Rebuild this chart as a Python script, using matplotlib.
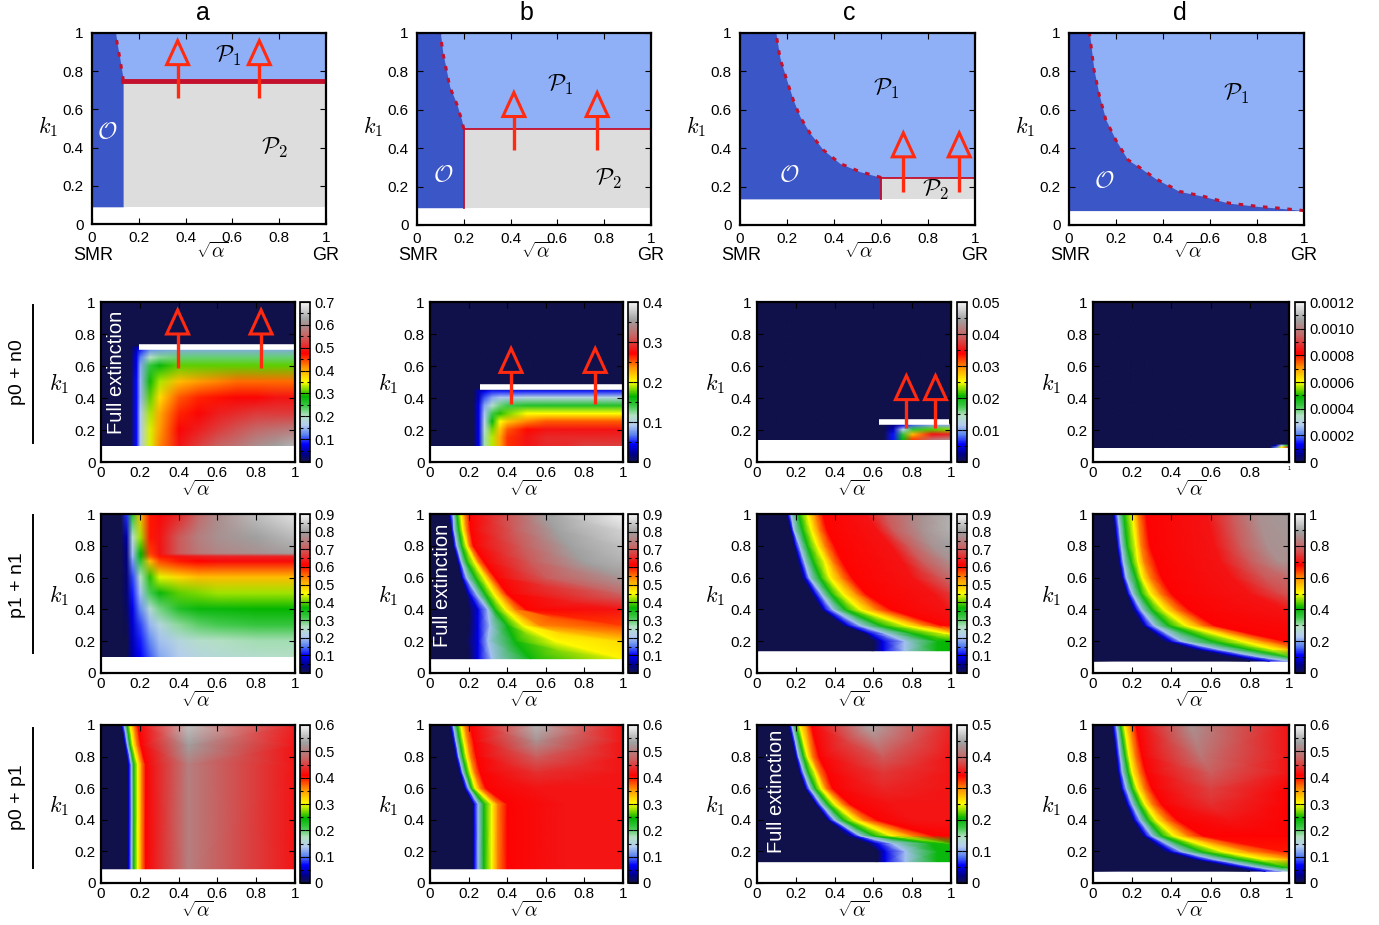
import numpy as np
import matplotlib
matplotlib.use('Agg')
import matplotlib.pyplot as plt
from matplotlib.colors import LinearSegmentedColormap, Normalize
from matplotlib.patches import Polygon
from matplotlib.lines import Line2D
from matplotlib.ticker import FixedLocator
from matplotlib.image import NonUniformImage

plt.rcParams['font.family'] = ['Liberation Sans', 'DejaVu Sans']
plt.rcParams['mathtext.fontset'] = 'cm'

# ------------------------------------------------------------------ data
COLUMN_TITLES = ['a', 'b', 'c', 'd']
ROW_LABELS = ['p0 + n0', 'p1 + n1', 'p0 + p1']
TICKS = [0, 0.2, 0.4, 0.6, 0.8, 1.0]
TICK_LABELS = ['0', '0.2', '0.4', '0.6', '0.8', '1']

# top row: phase diagrams (O / P1 / P2)
PHASE_BOTTOM = [0.09, 0.09, 0.136, 0.075]
P2_LEVEL = [0.75, 0.50, 0.245, None]
O_EDGE_K1_A = [0.09, 0.75, 0.76, 0.874, 0.94, 1.0]
O_EDGE_X_A = [0.133, 0.133, 0.133, 0.118, 0.108, 0.101]
O_EDGE_K1_B = [0.09, 0.50, 0.55, 0.63, 0.72, 0.84, 0.90, 1.0]
O_EDGE_X_B = [0.20, 0.20, 0.19, 0.17, 0.14, 0.12, 0.11, 0.10]
O_EDGE_K1_C = [0.136, 0.245, 0.249, 0.278, 0.32, 0.39, 0.478, 0.565, 0.65, 0.75, 0.87, 1.0]
O_EDGE_X_C = [0.60, 0.60, 0.596, 0.51, 0.426, 0.355, 0.298, 0.255, 0.227, 0.20, 0.17, 0.153]
O_EDGE_K1_D = [0.075, 0.088, 0.096, 0.114, 0.15, 0.175, 0.24, 0.30, 0.34, 0.44, 0.55, 0.68, 0.81, 0.99, 1.0]
O_EDGE_X_D = [1.0, 0.89, 0.81, 0.68, 0.57, 0.47, 0.37, 0.30, 0.25, 0.20, 0.156, 0.128, 0.106, 0.088, 0.088]
PHASE_LABEL_P1 = [(0.58, 0.88), (0.61, 0.73), (0.62, 0.71), (0.71, 0.68)]
PHASE_LABEL_P2 = [(0.78, 0.40), (0.82, 0.24), (0.83, 0.18), None]
PHASE_LABEL_O = [(0.064, 0.48), (0.11, 0.26), (0.21, 0.26), (0.15, 0.23)]

# arrows (x positions, stem bottom, tip)
TOP_ARROW_X = [[0.366, 0.715], [0.414, 0.77], [0.695, 0.933], []]
TOP_ARROW_Y = [(0.66, 0.96), (0.39, 0.69), (0.17, 0.48), None]
R2_ARROW_X = [[0.395, 0.825], [0.42, 0.856], [0.77, 0.92], []]
R2_ARROW_Y = [(0.59, 0.95), (0.36, 0.71), (0.21, 0.54), None]
# white threshold lines in row 2: (k1, x_start, x_end)
R2_WHITE_LINE = [(0.72, 0.196, 1.0), (0.47, 0.26, 1.0), (0.25, 0.63, 0.99), None]

# ---- row 2: p0 + n0  (rectangular grids: X shared by all rows)
R2A_X = [0, 0.15, 0.18, 0.2, 0.25, 0.3, 0.4, 0.5, 0.6, 0.7, 0.8, 0.9, 1.0]
R2A_Y = [0.1, 0.2, 0.3, 0.4, 0.5, 0.6, 0.65, 0.71, 0.725, 1.0]
R2A_Z = [
    [0, 0, 0.08, 0.16, 0.34, 0.42, 0.49, 0.52, 0.55, 0.57, 0.60, 0.62, 0.64],
    [0, 0, 0.08, 0.16, 0.34, 0.41, 0.48, 0.50, 0.52, 0.54, 0.56, 0.57, 0.58],
    [0, 0, 0.08, 0.16, 0.33, 0.40, 0.46, 0.48, 0.50, 0.51, 0.52, 0.52, 0.52],
    [0, 0, 0.08, 0.15, 0.31, 0.37, 0.44, 0.46, 0.47, 0.48, 0.48, 0.49, 0.49],
    [0, 0, 0.08, 0.15, 0.29, 0.33, 0.39, 0.41, 0.42, 0.43, 0.43, 0.43, 0.43],
    [0, 0, 0.07, 0.14, 0.25, 0.28, 0.31, 0.31, 0.31, 0.31, 0.31, 0.31, 0.31],
    [0, 0, 0.07, 0.12, 0.20, 0.22, 0.23, 0.23, 0.23, 0.23, 0.23, 0.23, 0.23],
    [0, 0, 0.05, 0.08, 0.12, 0.13, 0.14, 0.14, 0.14, 0.14, 0.14, 0.14, 0.14],
    [0, 0, 0, 0, 0, 0, 0, 0, 0, 0, 0, 0, 0],
    [0, 0, 0, 0, 0, 0, 0, 0, 0, 0, 0, 0, 0],
]
R2B_X = [0, 0.22, 0.25, 0.28, 0.32, 0.36, 0.4, 0.5, 0.6, 0.7, 0.8, 0.9, 1.0]
R2B_Y = [0.1, 0.15, 0.2, 0.25, 0.3, 0.35, 0.4, 0.44, 0.46, 1.0]
R2B_Z = [
    [0, 0, 0.04, 0.12, 0.19, 0.23, 0.26, 0.28, 0.29, 0.29, 0.30, 0.30, 0.30],
    [0, 0, 0.04, 0.12, 0.19, 0.23, 0.26, 0.28, 0.29, 0.29, 0.29, 0.29, 0.29],
    [0, 0, 0.04, 0.11, 0.18, 0.22, 0.25, 0.27, 0.28, 0.28, 0.28, 0.28, 0.28],
    [0, 0, 0.04, 0.10, 0.16, 0.20, 0.22, 0.24, 0.25, 0.25, 0.25, 0.25, 0.25],
    [0, 0, 0.04, 0.09, 0.14, 0.17, 0.18, 0.20, 0.20, 0.20, 0.20, 0.20, 0.20],
    [0, 0, 0.04, 0.08, 0.11, 0.13, 0.14, 0.15, 0.15, 0.15, 0.15, 0.15, 0.15],
    [0, 0, 0.03, 0.06, 0.08, 0.09, 0.09, 0.10, 0.10, 0.10, 0.10, 0.10, 0.10],
    [0, 0, 0.03, 0.04, 0.05, 0.05, 0.05, 0.05, 0.05, 0.05, 0.05, 0.05, 0.05],
    [0, 0, 0, 0, 0, 0, 0, 0, 0, 0, 0, 0, 0],
    [0, 0, 0, 0, 0, 0, 0, 0, 0, 0, 0, 0, 0],
]
R2C_X = [0, 0.65, 0.7, 0.75, 0.8, 0.9, 1.0]
R2C_Y = [0.14, 0.17, 0.2, 0.23, 0.24, 1.0]
R2C_Z = [
    [0, 0, 0.006, 0.020, 0.032, 0.040, 0.042],
    [0, 0, 0.006, 0.018, 0.028, 0.035, 0.036],
    [0, 0, 0.004, 0.012, 0.018, 0.022, 0.023],
    [0, 0, 0.002, 0.005, 0.008, 0.010, 0.010],
    [0, 0, 0, 0, 0, 0, 0],
    [0, 0, 0, 0, 0, 0, 0],
]
R2D_X = [0, 0.9, 0.93, 0.96, 0.99, 1.0]
R2D_Y = [0.09, 0.1, 0.11, 1.0]
R2D_Z = [
    [0, 0, 0.0002, 0.0006, 0.0009, 0.0009],
    [0, 0, 0.0001, 0.0003, 0.0005, 0.0005],
    [0, 0, 0, 0, 0, 0],
    [0, 0, 0, 0, 0, 0],
]

# ---- row 3: p1 + n1
R3A_X = [0, 0.1, 0.13, 0.16, 0.2, 0.25, 0.3, 0.4, 0.5, 0.6, 0.8, 1.0]
R3A_Y = [0.1, 0.2, 0.3, 0.4, 0.5, 0.6, 0.7, 0.73, 0.75, 0.85, 1.0]
R3A_Z = [
    [0, 0, 0, 0.06, 0.10, 0.14, 0.18, 0.21, 0.23, 0.24, 0.25, 0.26],
    [0, 0, 0, 0.07, 0.11, 0.16, 0.20, 0.23, 0.25, 0.26, 0.27, 0.27],
    [0, 0, 0.01, 0.08, 0.13, 0.19, 0.23, 0.28, 0.30, 0.31, 0.32, 0.32],
    [0, 0, 0.02, 0.09, 0.16, 0.24, 0.29, 0.34, 0.36, 0.36, 0.37, 0.37],
    [0, 0, 0.03, 0.11, 0.20, 0.31, 0.36, 0.40, 0.41, 0.42, 0.42, 0.42],
    [0, 0, 0.03, 0.13, 0.26, 0.38, 0.44, 0.48, 0.50, 0.50, 0.50, 0.50],
    [0, 0, 0.04, 0.17, 0.33, 0.50, 0.57, 0.60, 0.61, 0.62, 0.62, 0.62],
    [0, 0, 0.04, 0.19, 0.36, 0.56, 0.60, 0.63, 0.64, 0.65, 0.65, 0.65],
    [0, 0, 0.04, 0.20, 0.37, 0.58, 0.63, 0.70, 0.74, 0.76, 0.78, 0.80],
    [0, 0, 0.06, 0.25, 0.42, 0.60, 0.63, 0.70, 0.75, 0.78, 0.80, 0.83],
    [0, 0, 0.12, 0.34, 0.50, 0.60, 0.62, 0.65, 0.72, 0.77, 0.84, 0.88],
]
# curvilinear panels: for each k1 row, the x positions where the colour
# reaches the listed value (band edges)
R3B_Y = [0.09, 0.2, 0.3, 0.4, 0.5, 0.6, 0.7, 0.8, 0.9, 1.0]
R3B_X = [
    [0, 0.2, 0.25, 0.32, 0.52, 1.0, 1.0, 1.0, 1.0, 1.0, 1.0],
    [0, 0.19, 0.25, 0.30, 0.44, 0.65, 1.0, 1.0, 1.0, 1.0, 1.0],
    [0, 0.2, 0.25, 0.31, 0.40, 0.48, 0.57, 1.0, 1.0, 1.0, 1.0],
    [0, 0.2, 0.25, 0.30, 0.335, 0.39, 0.44, 0.50, 1.0, 1.0, 1.0],
    [0, 0.185, 0.205, 0.24, 0.285, 0.33, 0.37, 0.40, 1.0, 1.0, 1.0],
    [0, 0.16, 0.17, 0.19, 0.235, 0.28, 0.31, 0.34, 0.60, 1.0, 1.0],
    [0, 0.14, 0.15, 0.163, 0.19, 0.23, 0.25, 0.28, 0.52, 0.80, 1.0],
    [0, 0.12, 0.127, 0.14, 0.165, 0.19, 0.205, 0.225, 0.47, 0.72, 1.0],
    [0, 0.11, 0.115, 0.125, 0.15, 0.17, 0.19, 0.21, 0.43, 0.65, 1.0],
    [0, 0.1, 0.105, 0.12, 0.14, 0.16, 0.18, 0.205, 0.42, 0.60, 1.0],
]
R3B_Z = [
    [0, 0, 0.09, 0.2, 0.36, 0.46, 0.46, 0.46, 0.46, 0.46, 0.46],
    [0, 0, 0.09, 0.2, 0.36, 0.45, 0.48, 0.48, 0.48, 0.48, 0.48],
    [0, 0, 0.09, 0.2, 0.36, 0.45, 0.54, 0.58, 0.58, 0.58, 0.58],
    [0, 0, 0.09, 0.2, 0.36, 0.45, 0.54, 0.61, 0.63, 0.63, 0.63],
    [0, 0, 0.09, 0.2, 0.36, 0.45, 0.54, 0.61, 0.72, 0.72, 0.72],
    [0, 0, 0.09, 0.2, 0.36, 0.45, 0.54, 0.61, 0.70, 0.79, 0.79],
    [0, 0, 0.09, 0.2, 0.36, 0.45, 0.54, 0.61, 0.70, 0.80, 0.82],
    [0, 0, 0.09, 0.2, 0.36, 0.45, 0.54, 0.61, 0.70, 0.80, 0.84],
    [0, 0, 0.09, 0.2, 0.36, 0.45, 0.54, 0.61, 0.70, 0.80, 0.86],
    [0, 0, 0.09, 0.2, 0.36, 0.45, 0.54, 0.61, 0.70, 0.80, 0.90],
]
R3C_Y = [0.14, 0.2, 0.25, 0.3, 0.4, 0.5, 0.6, 0.7, 0.8, 0.9, 1.0]
R3C_X = [
    [0, 0.6, 0.65, 0.76, 0.93, 1.0, 1.0, 1.0, 1.0, 1.0, 1.0, 1.0],
    [0, 0.6, 0.65, 0.76, 0.93, 1.0, 1.0, 1.0, 1.0, 1.0, 1.0, 1.0],
    [0, 0.55, 0.58, 0.66, 0.80, 0.97, 1.0, 1.0, 1.0, 1.0, 1.0, 1.0],
    [0, 0.44, 0.47, 0.53, 0.635, 0.765, 0.86, 0.95, 1.0, 1.0, 1.0, 1.0],
    [0, 0.33, 0.35, 0.39, 0.455, 0.53, 0.61, 0.69, 0.98, 1.0, 1.0, 1.0],
    [0, 0.28, 0.30, 0.33, 0.38, 0.44, 0.51, 0.56, 0.91, 1.0, 1.0, 1.0],
    [0, 0.23, 0.25, 0.27, 0.325, 0.375, 0.435, 0.49, 0.80, 0.95, 1.0, 1.0],
    [0, 0.21, 0.225, 0.245, 0.29, 0.35, 0.39, 0.44, 0.75, 0.85, 1.0, 1.0],
    [0, 0.19, 0.20, 0.22, 0.26, 0.31, 0.35, 0.40, 0.69, 0.78, 0.90, 1.0],
    [0, 0.17, 0.18, 0.19, 0.235, 0.28, 0.32, 0.36, 0.62, 0.70, 0.85, 1.0],
    [0, 0.152, 0.16, 0.175, 0.215, 0.26, 0.30, 0.34, 0.56, 0.66, 0.85, 1.0],
]
R3C_Z = [
    [0, 0, 0.09, 0.2, 0.36, 0.37, 0.37, 0.37, 0.37, 0.37, 0.37, 0.37],
    [0, 0, 0.09, 0.2, 0.36, 0.37, 0.37, 0.37, 0.37, 0.37, 0.37, 0.37],
    [0, 0, 0.09, 0.2, 0.36, 0.45, 0.46, 0.46, 0.46, 0.46, 0.46, 0.46],
    [0, 0, 0.09, 0.2, 0.36, 0.45, 0.54, 0.61, 0.62, 0.62, 0.62, 0.62],
    [0, 0, 0.09, 0.2, 0.36, 0.45, 0.54, 0.61, 0.63, 0.64, 0.64, 0.64],
    [0, 0, 0.09, 0.2, 0.36, 0.45, 0.54, 0.61, 0.63, 0.67, 0.67, 0.67],
    [0, 0, 0.09, 0.2, 0.36, 0.45, 0.54, 0.61, 0.63, 0.70, 0.72, 0.72],
    [0, 0, 0.09, 0.2, 0.36, 0.45, 0.54, 0.61, 0.63, 0.70, 0.78, 0.78],
    [0, 0, 0.09, 0.2, 0.36, 0.45, 0.54, 0.61, 0.63, 0.70, 0.78, 0.80],
    [0, 0, 0.09, 0.2, 0.36, 0.45, 0.54, 0.61, 0.63, 0.70, 0.78, 0.82],
    [0, 0, 0.09, 0.2, 0.36, 0.45, 0.54, 0.61, 0.63, 0.70, 0.78, 0.82],
]
R3D_Y = [0.075, 0.1, 0.15, 0.2, 0.3, 0.4, 0.5, 0.6, 0.7, 0.8, 1.0]
R3D_X = [
    [0, 0.8, 0.9, 1.0, 1.0, 1.0, 1.0, 1.0, 1.0, 1.0, 1.0, 1.0],
    [0, 0.7, 0.78, 0.86, 1.0, 1.0, 1.0, 1.0, 1.0, 1.0, 1.0, 1.0],
    [0, 0.5, 0.56, 0.64, 0.79, 0.92, 1.0, 1.0, 1.0, 1.0, 1.0, 1.0],
    [0, 0.36, 0.40, 0.45, 0.61, 0.76, 0.87, 0.98, 1.0, 1.0, 1.0, 1.0],
    [0, 0.25, 0.27, 0.31, 0.385, 0.47, 0.55, 0.62, 1.0, 1.0, 1.0, 1.0],
    [0, 0.2, 0.22, 0.245, 0.30, 0.36, 0.42, 0.49, 0.98, 1.0, 1.0, 1.0],
    [0, 0.17, 0.18, 0.20, 0.245, 0.29, 0.34, 0.40, 0.80, 0.95, 1.0, 1.0],
    [0, 0.145, 0.155, 0.17, 0.22, 0.25, 0.29, 0.35, 0.71, 0.88, 1.0, 1.0],
    [0, 0.13, 0.14, 0.155, 0.195, 0.23, 0.26, 0.32, 0.65, 0.80, 0.95, 1.0],
    [0, 0.12, 0.128, 0.145, 0.175, 0.22, 0.245, 0.29, 0.62, 0.75, 0.89, 1.0],
    [0, 0.1, 0.11, 0.127, 0.158, 0.20, 0.23, 0.27, 0.58, 0.71, 0.84, 1.0],
]
R3D_Z = [
    [0, 0, 0.1, 0.22, 0.22, 0.22, 0.22, 0.22, 0.22, 0.22, 0.22, 0.22],
    [0, 0, 0.1, 0.22, 0.38, 0.38, 0.38, 0.38, 0.38, 0.38, 0.38, 0.38],
    [0, 0, 0.1, 0.22, 0.40, 0.50, 0.56, 0.56, 0.56, 0.56, 0.56, 0.56],
    [0, 0, 0.1, 0.22, 0.40, 0.50, 0.60, 0.68, 0.68, 0.68, 0.68, 0.68],
    [0, 0, 0.1, 0.22, 0.40, 0.50, 0.60, 0.68, 0.69, 0.69, 0.69, 0.69],
    [0, 0, 0.1, 0.22, 0.40, 0.50, 0.60, 0.68, 0.70, 0.70, 0.70, 0.70],
    [0, 0, 0.1, 0.22, 0.40, 0.50, 0.60, 0.68, 0.70, 0.76, 0.77, 0.77],
    [0, 0, 0.1, 0.22, 0.40, 0.50, 0.60, 0.68, 0.70, 0.78, 0.80, 0.80],
    [0, 0, 0.1, 0.22, 0.40, 0.50, 0.60, 0.68, 0.70, 0.78, 0.86, 0.86],
    [0, 0, 0.1, 0.22, 0.40, 0.50, 0.60, 0.68, 0.70, 0.78, 0.86, 0.87],
    [0, 0, 0.1, 0.22, 0.40, 0.50, 0.60, 0.68, 0.70, 0.78, 0.86, 0.88],
]

# ---- row 4: p0 + p1
R4A_Y = [0.09, 0.75, 0.875, 1.0]
R4A_X = [
    [0, 0.135, 0.145, 0.157, 0.17, 0.19, 0.21, 0.23, 0.45, 1.0],
    [0, 0.135, 0.145, 0.157, 0.17, 0.19, 0.21, 0.23, 0.45, 1.0],
    [0, 0.12, 0.127, 0.137, 0.15, 0.165, 0.185, 0.205, 0.45, 1.0],
    [0, 0.105, 0.11, 0.12, 0.135, 0.15, 0.17, 0.19, 0.45, 1.0],
]
R4A_Z = [
    [0, 0, 0.06, 0.13, 0.24, 0.30, 0.36, 0.41, 0.50, 0.42],
    [0, 0, 0.06, 0.13, 0.24, 0.30, 0.36, 0.41, 0.50, 0.42],
    [0, 0, 0.06, 0.13, 0.24, 0.30, 0.36, 0.41, 0.53, 0.42],
    [0, 0, 0.06, 0.13, 0.24, 0.30, 0.36, 0.41, 0.56, 0.43],
]
R4B_Y = [0.09, 0.5, 0.6, 0.7, 0.8, 0.9, 1.0]
R4B_X = [
    [0, 0.22, 0.23, 0.25, 0.28, 0.32, 0.35, 0.40, 0.70, 1.0],
    [0, 0.22, 0.23, 0.25, 0.28, 0.32, 0.35, 0.40, 0.70, 1.0],
    [0, 0.175, 0.185, 0.20, 0.215, 0.235, 0.26, 0.29, 0.55, 1.0],
    [0, 0.15, 0.16, 0.17, 0.19, 0.21, 0.23, 0.26, 0.55, 1.0],
    [0, 0.13, 0.14, 0.15, 0.17, 0.19, 0.21, 0.24, 0.55, 1.0],
    [0, 0.115, 0.125, 0.135, 0.155, 0.175, 0.195, 0.225, 0.55, 1.0],
    [0, 0.1, 0.11, 0.12, 0.14, 0.16, 0.18, 0.21, 0.55, 1.0],
]
R4B_Z = [
    [0, 0, 0.06, 0.13, 0.24, 0.30, 0.36, 0.41, 0.42, 0.42],
    [0, 0, 0.06, 0.13, 0.24, 0.30, 0.36, 0.41, 0.42, 0.42],
    [0, 0, 0.06, 0.13, 0.24, 0.30, 0.36, 0.41, 0.42, 0.42],
    [0, 0, 0.06, 0.13, 0.24, 0.30, 0.36, 0.41, 0.44, 0.42],
    [0, 0, 0.06, 0.13, 0.24, 0.30, 0.36, 0.41, 0.47, 0.42],
    [0, 0, 0.06, 0.13, 0.24, 0.30, 0.36, 0.41, 0.52, 0.42],
    [0, 0, 0.06, 0.13, 0.24, 0.30, 0.36, 0.41, 0.55, 0.42],
]
R4C_Y = [0.135, 0.2, 0.25, 0.3, 0.4, 0.5, 0.6, 0.7, 0.8, 1.0]
R4C_X = [
    [0, 0.62, 0.66, 0.765, 0.93, 1.0, 1.0, 1.0, 1.0, 1.0],
    [0, 0.62, 0.66, 0.765, 0.93, 1.0, 1.0, 1.0, 1.0, 1.0],
    [0, 0.57, 0.62, 0.70, 0.90, 1.0, 1.0, 1.0, 1.0, 1.0],
    [0, 0.46, 0.50, 0.53, 0.60, 0.69, 0.80, 0.91, 1.0, 1.0],
    [0, 0.36, 0.375, 0.40, 0.445, 0.50, 0.55, 0.62, 0.80, 1.0],
    [0, 0.30, 0.31, 0.33, 0.365, 0.40, 0.44, 0.48, 0.70, 1.0],
    [0, 0.245, 0.255, 0.272, 0.30, 0.33, 0.355, 0.39, 0.65, 1.0],
    [0, 0.217, 0.226, 0.241, 0.265, 0.30, 0.32, 0.36, 0.65, 1.0],
    [0, 0.195, 0.205, 0.215, 0.24, 0.26, 0.285, 0.32, 0.65, 1.0],
    [0, 0.16, 0.17, 0.18, 0.20, 0.22, 0.255, 0.28, 0.58, 1.0],
]
R4C_Z = [
    [0, 0, 0.05, 0.11, 0.20, 0.20, 0.20, 0.20, 0.20, 0.20],
    [0, 0, 0.05, 0.11, 0.20, 0.20, 0.20, 0.20, 0.20, 0.20],
    [0, 0, 0.05, 0.11, 0.20, 0.21, 0.21, 0.21, 0.21, 0.21],
    [0, 0, 0.05, 0.11, 0.20, 0.25, 0.30, 0.34, 0.34, 0.34],
    [0, 0, 0.05, 0.11, 0.20, 0.25, 0.30, 0.34, 0.35, 0.35],
    [0, 0, 0.05, 0.11, 0.20, 0.25, 0.30, 0.34, 0.35, 0.35],
    [0, 0, 0.05, 0.11, 0.20, 0.25, 0.30, 0.34, 0.36, 0.35],
    [0, 0, 0.05, 0.11, 0.20, 0.25, 0.30, 0.34, 0.37, 0.35],
    [0, 0, 0.05, 0.11, 0.20, 0.25, 0.30, 0.34, 0.39, 0.35],
    [0, 0, 0.05, 0.11, 0.20, 0.25, 0.30, 0.34, 0.45, 0.36],
]
R4D_Y = [0.075, 0.1, 0.15, 0.2, 0.3, 0.4, 0.5, 0.6, 0.7, 0.8, 1.0]
R4D_X = [
    [0, 0.8, 0.88, 0.96, 1.0, 1.0, 1.0, 1.0, 1.0, 1.0],
    [0, 0.7, 0.77, 0.84, 0.97, 1.0, 1.0, 1.0, 1.0, 1.0],
    [0, 0.5, 0.55, 0.62, 0.75, 0.87, 1.0, 1.0, 1.0, 1.0],
    [0, 0.36, 0.40, 0.45, 0.55, 0.66, 0.80, 0.97, 1.0, 1.0],
    [0, 0.25, 0.27, 0.30, 0.35, 0.41, 0.48, 0.56, 0.80, 1.0],
    [0, 0.2, 0.215, 0.24, 0.28, 0.32, 0.37, 0.43, 0.70, 1.0],
    [0, 0.165, 0.18, 0.20, 0.235, 0.265, 0.30, 0.35, 0.60, 1.0],
    [0, 0.14, 0.15, 0.17, 0.20, 0.225, 0.26, 0.30, 0.60, 1.0],
    [0, 0.125, 0.135, 0.15, 0.18, 0.20, 0.235, 0.27, 0.60, 1.0],
    [0, 0.115, 0.125, 0.14, 0.165, 0.185, 0.215, 0.25, 0.55, 1.0],
    [0, 0.095, 0.105, 0.12, 0.14, 0.16, 0.19, 0.22, 0.50, 1.0],
]
R4D_Z = [
    [0, 0, 0.06, 0.13, 0.15, 0.15, 0.15, 0.15, 0.15, 0.15],
    [0, 0, 0.06, 0.13, 0.24, 0.25, 0.25, 0.25, 0.25, 0.25],
    [0, 0, 0.06, 0.13, 0.24, 0.30, 0.34, 0.34, 0.34, 0.34],
    [0, 0, 0.06, 0.13, 0.24, 0.30, 0.36, 0.40, 0.40, 0.40],
    [0, 0, 0.06, 0.13, 0.24, 0.30, 0.36, 0.41, 0.41, 0.41],
    [0, 0, 0.06, 0.13, 0.24, 0.30, 0.36, 0.41, 0.42, 0.41],
    [0, 0, 0.06, 0.13, 0.24, 0.30, 0.36, 0.41, 0.44, 0.41],
    [0, 0, 0.06, 0.13, 0.24, 0.30, 0.36, 0.41, 0.45, 0.41],
    [0, 0, 0.06, 0.13, 0.24, 0.30, 0.36, 0.41, 0.47, 0.42],
    [0, 0, 0.06, 0.13, 0.24, 0.30, 0.36, 0.41, 0.49, 0.42],
    [0, 0, 0.06, 0.13, 0.24, 0.30, 0.36, 0.41, 0.52, 0.42],
]

# colorbar ranges and labels
CB_VMAX = [[0.7, 0.4, 0.05, 0.0012], [0.9, 0.9, 0.9, 1.0], [0.6, 0.6, 0.5, 0.6]]
CB_STEP = [[0.1, 0.1, 0.01, 0.0002], [0.1, 0.1, 0.1, 0.2], [0.1, 0.1, 0.1, 0.1]]
CB_LABELS = [
    [['0', '0.1', '0.2', '0.3', '0.4', '0.5', '0.6', '0.7'],
     ['0', '0.1', '0.2', '0.3', '0.4'],
     ['0', '0.01', '0.02', '0.03', '0.04', '0.05'],
     ['0', '0.0002', '0.0004', '0.0006', '0.0008', '0.0010', '0.0012']],
    [['0', '0.1', '0.2', '0.3', '0.4', '0.5', '0.6', '0.7', '0.8', '0.9']] * 3 +
    [['0', '0.2', '0.4', '0.6', '0.8', '1']],
    [['0', '0.1', '0.2', '0.3', '0.4', '0.5', '0.6']] * 2 +
    [['0', '0.1', '0.2', '0.3', '0.4', '0.5']] +
    [['0', '0.1', '0.2', '0.3', '0.4', '0.5', '0.6']],
]

HEATMAPS = [
    [(R2A_X, R2A_Y, R2A_Z), (R2B_X, R2B_Y, R2B_Z), (R2C_X, R2C_Y, R2C_Z), (R2D_X, R2D_Y, R2D_Z)],
    [(R3A_X, R3A_Y, R3A_Z), (R3B_X, R3B_Y, R3B_Z), (R3C_X, R3C_Y, R3C_Z), (R3D_X, R3D_Y, R3D_Z)],
    [(R4A_X, R4A_Y, R4A_Z), (R4B_X, R4B_Y, R4B_Z), (R4C_X, R4C_Y, R4C_Z), (R4D_X, R4D_Y, R4D_Z)],
]
FULL_EXT = {(0, 0): (0.082, 0.56), (1, 1): (0.067, 0.55), (2, 2): (0.098, 0.58)}

# ------------------------------------------------------------------ style
CMAP_POS = [0.0, 0.05, 0.11, 0.17, 0.23, 0.29, 0.35, 0.41, 0.5, 0.59, 0.68, 0.79, 0.89, 1.0]
CMAP_COL = ['#10104a', '#00008c', '#0000ff', '#5a82f0', '#b4cdf0', '#b4e1c3', '#3cc846',
            '#00b400', '#ffff00', '#ff9600', '#ff0000', '#c86464', '#a0a0a0', '#f5f5f5']
CMAP = LinearSegmentedColormap.from_list('gp', list(zip(CMAP_POS, CMAP_COL)))
C_O, C_P1, C_P2 = '#3b56c7', '#8fb0f7', '#dddddd'
RED_EDGE = '#c4102c'
ARROW_RED = '#ff2a10'

W, H = 1379, 925
fig = plt.figure(figsize=(W / 100, H / 100), dpi=100)


def px_axes(l, r, t, b):
    return fig.add_axes([l / W, 1 - b / H, (r - l) / W, (b - t) / H])


def ftext(x, y, s, **kw):
    kw.setdefault('ha', 'center')
    kw.setdefault('va', 'center')
    fig.text(x / W, 1 - y / H, s, **kw)


def setup(ax, labelsize=11, xpad=4, ypad=4):
    ax.set_xlim(0, 1)
    ax.set_ylim(0, 1)
    ax.set_xticks(TICKS)
    ax.set_xticklabels(TICK_LABELS)
    ax.set_yticks(TICKS)
    ax.set_yticklabels(TICK_LABELS)
    ax.tick_params(direction='in', length=4, width=0.8, top=True, right=True,
                   labelsize=labelsize)
    ax.tick_params(axis='x', pad=xpad)
    ax.tick_params(axis='y', pad=ypad)
    for s in ax.spines.values():
        s.set_linewidth(1.6)
        s.set_zorder(10)


def arrow(ax, x, y0, y1, wpx, hpx):
    hw = 11.0 / wpx
    hh = 24.0 / hpx
    ax.plot([x, x], [y0, y1 - hh], color=ARROW_RED, lw=2.4, solid_capstyle='butt', zorder=6)
    ax.add_patch(Polygon([[x - hw, y1 - hh], [x + hw, y1 - hh], [x, y1]], closed=True,
                         fill=False, edgecolor=ARROW_RED, lw=2.2, joinstyle='miter', zorder=6))


# ------------------------------------------------------------------ top row
TOP_BOX = [(92, 326, 33, 224), (417, 651, 33, 225), (740, 975, 33, 225), (1069, 1304, 33, 225)]
TITLE_X = [203, 526, 849, 1180]
O_EDGES = [(O_EDGE_K1_A, O_EDGE_X_A), (O_EDGE_K1_B, O_EDGE_X_B),
           (O_EDGE_K1_C, O_EDGE_X_C), (O_EDGE_K1_D, O_EDGE_X_D)]
for i in range(4):
    l, r, t, b = TOP_BOX[i]
    ax = px_axes(l, r, t, b)
    setup(ax, labelsize=11, xpad=5, ypad=6)
    bot = PHASE_BOTTOM[i]
    ax.fill_between([0, 1], bot, 1, color=C_P1, lw=0)
    lev = P2_LEVEL[i]
    if lev is not None:
        ax.fill_between([0, 1], bot, lev, color=C_P2, lw=0)
    k1e = np.array(O_EDGES[i][0])
    xe = np.array(O_EDGES[i][1])
    ax.fill_betweenx(k1e, 0, xe, color=C_O, lw=0)
    if lev is not None:
        m = k1e >= lev
        ax.plot(xe[m], k1e[m], color=RED_EDGE, lw=2.2, ls=(0, (1.5, 2.5)), zorder=4)
        xl = xe[np.argmin(np.abs(k1e - lev))]
        ax.plot([xl, 1], [lev, lev], color=RED_EDGE, lw=3.5 if i == 0 else 1.3, zorder=4)
        if i > 0:
            ax.plot([xl, xl], [bot, lev], color=RED_EDGE, lw=1.3, zorder=4)
    else:
        ax.plot(xe, k1e, color=RED_EDGE, lw=2.2, ls=(0, (1.5, 2.5)), zorder=4)
    px, py = PHASE_LABEL_P1[i]
    ax.text(px, py, r'$\mathcal{P}_1$', fontsize=17, ha='center', va='center')
    if PHASE_LABEL_P2[i] is not None:
        px, py = PHASE_LABEL_P2[i]
        ax.text(px, py, r'$\mathcal{P}_2$', fontsize=17, ha='center', va='center')
    px, py = PHASE_LABEL_O[i]
    ax.text(px, py, r'$\mathcal{O}$', fontsize=17, ha='center', va='center', color='white')
    if TOP_ARROW_Y[i] is not None:
        for xa in TOP_ARROW_X[i]:
            arrow(ax, xa, TOP_ARROW_Y[i][0], TOP_ARROW_Y[i][1], r - l, b - t)
    ftext(TITLE_X[i], 13, COLUMN_TITLES[i], fontsize=18)
    ftext(l - 44, 127, r'$k_1$', fontsize=16)
    ftext(l + 1, 255, 'SMR', fontsize=13)
    ftext((l + r) / 2 + 3, 252, r'$\sqrt{\alpha}$', fontsize=14)
    ftext(r, 255, 'GR', fontsize=13)

# ------------------------------------------------------------------ heatmap rows
COL_X = [(101, 295, 300, 310), (430, 623, 628, 638), (757, 951, 957, 967), (1093, 1289, 1295, 1305)]
ROW_Y = [(302, 462), (514, 673), (725, 883)]
ROW_LABEL_Y = [372, 585, 797]
ROW_LINE = [(305, 443), (515, 653), (728, 868)]
for ri in range(3):
    t, b = ROW_Y[ri]
    ftext(18, ROW_LABEL_Y[ri], ROW_LABELS[ri], fontsize=14, rotation=90)
    fig.add_artist(Line2D([33 / W, 33 / W], [1 - ROW_LINE[ri][0] / H, 1 - ROW_LINE[ri][1] / H],
                          color='black', lw=1.4))
    for ci in range(4):
        l, r, cl, cr = COL_X[ci]
        ax = px_axes(l, r, t, b)
        X, Y, Z = HEATMAPS[ri][ci]
        Xa = np.array(X, dtype=float)
        Ya = np.array(Y, dtype=float)
        Za = np.array(Z, dtype=float)
        norm = Normalize(vmin=0, vmax=CB_VMAX[ri][ci])
        if Xa.ndim == 1:
            mappable = NonUniformImage(ax, interpolation='bilinear', cmap=CMAP, norm=norm,
                                       extent=(0, 1, Ya[0], 1))
            mappable.set_data(Xa, Ya, Za)
            ax.add_image(mappable)
            ax.axhspan(0, Ya[0], color='white', lw=0, zorder=3)
        else:
            Yg = np.repeat(Ya[:, None], Xa.shape[1], axis=1)
            mappable = ax.pcolormesh(Xa, Yg, Za, shading='gouraud', cmap=CMAP, norm=norm,
                                     rasterized=True)
        setup(ax, labelsize=11, xpad=3, ypad=4)
        if ri == 0 and ci == 3:
            labs = ax.get_xticklabels()
            labs[-1].set_fontsize(4)
        if ri == 0 and R2_WHITE_LINE[ci] is not None:
            k, xa, xb = R2_WHITE_LINE[ci]
            ax.plot([xa, xb], [k, k], color='white', lw=4, solid_capstyle='butt', zorder=5)
        if ri == 0 and R2_ARROW_Y[ci] is not None:
            for xa in R2_ARROW_X[ci]:
                arrow(ax, xa, R2_ARROW_Y[ci][0], R2_ARROW_Y[ci][1], r - l, b - t)
        if (ri, ci) in FULL_EXT:
            fx, fy = FULL_EXT[(ri, ci)]
            ax.text(fx, fy, 'Full extinction', color='white', fontsize=14.5, rotation=90,
                    ha='center', va='center', zorder=7)
        cax = px_axes(cl, cr, t, b)
        cb = fig.colorbar(mappable, cax=cax)
        step = CB_STEP[ri][ci]
        labels = CB_LABELS[ri][ci]
        ticks = [k * step for k in range(len(labels))]
        cb.set_ticks(ticks)
        cb.set_ticklabels(labels)
        cax.yaxis.set_minor_locator(FixedLocator([(k + 0.5) * step for k in range(len(labels) - 1)]))
        cax.tick_params(which='both', direction='in', left=True, right=True, width=0.8,
                        labelsize=10.5, pad=3)
        cax.tick_params(which='major', length=3.5)
        cax.tick_params(which='minor', length=2)
        cb.outline.set_linewidth(1.2)
        ftext(l - 42, (t + b) / 2 + 2, r'$k_1$', fontsize=16)
        ftext((l + r) / 2 - 1, b + 28, r'$\sqrt{\alpha}$', fontsize=14)

fig.savefig('out.png', dpi=100)
